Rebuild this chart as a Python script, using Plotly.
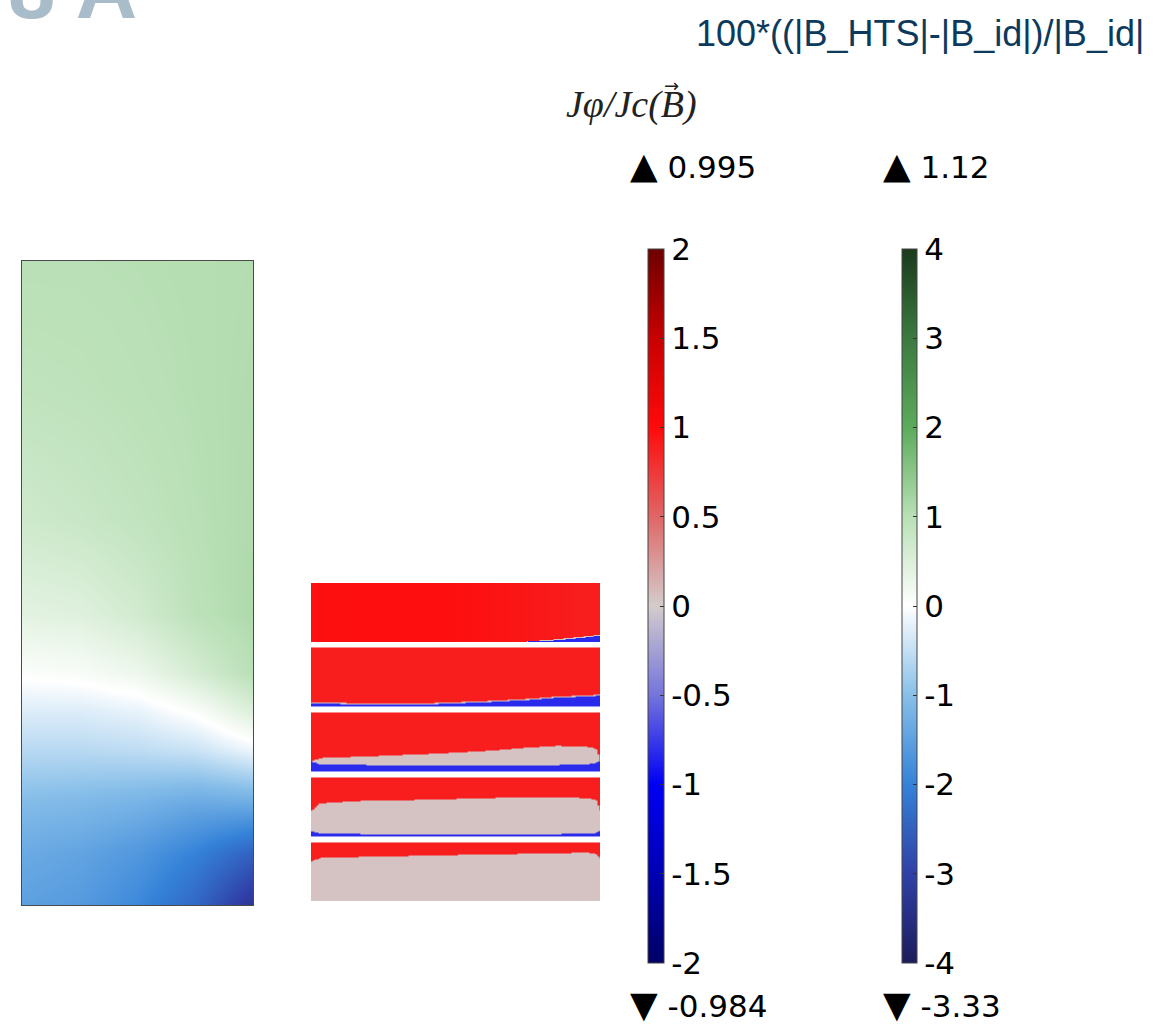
import numpy as np
import plotly.graph_objects as go

W, H = 1158, 1025

# ---------------- Left panel: 100*((|B_HTS|-|B_id|)/|B_id|) ----------------
lp_r = [0.0, 0.25, 0.5, 0.75, 1.0]                                   # radial position (normalised)
lp_z = [0.0, 0.08, 0.16, 0.24, 0.30, 0.36, 0.45, 0.60, 0.80, 1.0]   # axial position (normalised)
lp_vals = [
    [-1.50, -1.60, -1.90, -2.40, -3.30],
    [-1.35, -1.45, -1.65, -2.00, -2.50],
    [-1.05, -1.10, -1.20, -1.35, -1.30],
    [-0.60, -0.60, -0.55, -0.45, -0.15],
    [-0.30, -0.30, -0.20, 0.05, 0.50],
    [0.05, 0.10, 0.25, 0.60, 1.00],
    [0.40, 0.45, 0.65, 0.95, 1.12],
    [0.70, 0.78, 0.88, 1.00, 1.10],
    [0.90, 0.93, 0.98, 1.03, 1.08],
    [1.00, 1.00, 1.02, 1.04, 1.06],
]

# ---------------- Middle panel: J_phi / Jc(B) in 5 tapes ----------------
strip_x = [0.0, 0.03, 0.2, 0.4, 0.6, 0.75, 0.85, 0.95, 0.985, 1.0]
# top of the negative (blue) zone, fraction of tape height, per tape (top -> bottom)
blue_tops = [
    [0.00, 0.00, 0.00, 0.00, 0.00, 0.00, 0.02, 0.07, 0.09, 0.10],
    [0.06, 0.06, 0.04, 0.045, 0.08, 0.12, 0.16, 0.18, 0.19, 0.19],
    [0.18, 0.13, 0.12, 0.12, 0.12, 0.12, 0.12, 0.13, 0.15, 0.22],
    [0.10, 0.06, 0.05, 0.05, 0.05, 0.05, 0.05, 0.06, 0.07, 0.12],
    [0.00, 0.00, 0.00, 0.00, 0.00, 0.00, 0.00, 0.00, 0.00, 0.00],
]
# top of the sub-critical (grey) zone
gray_tops = [
    [0.00, 0.00, 0.00, 0.00, 0.00, 0.00, 0.04, 0.09, 0.11, 0.12],
    [0.08, 0.08, 0.06, 0.065, 0.10, 0.14, 0.18, 0.20, 0.21, 0.21],
    [0.18, 0.24, 0.27, 0.31, 0.36, 0.42, 0.45, 0.44, 0.40, 0.22],
    [0.45, 0.58, 0.63, 0.64, 0.67, 0.68, 0.68, 0.67, 0.64, 0.45],
    [0.70, 0.76, 0.78, 0.80, 0.82, 0.83, 0.84, 0.85, 0.83, 0.75],
]
# level of the saturated (red) zone
red_levels = [
    [0.96, 0.97, 0.98, 0.98, 0.96, 0.93, 0.91, 0.89, 0.89, 0.89],
    [0.89, 0.89, 0.89, 0.89, 0.89, 0.89, 0.89, 0.89, 0.89, 0.89],
    [0.89, 0.89, 0.89, 0.89, 0.89, 0.89, 0.89, 0.89, 0.89, 0.89],
    [0.89, 0.89, 0.89, 0.89, 0.89, 0.89, 0.89, 0.89, 0.89, 0.89],
    [0.89, 0.89, 0.89, 0.89, 0.89, 0.89, 0.89, 0.89, 0.89, 0.89],
]
gray_level = 0.05
blue_level = -0.82

# ---------------- Colour legends ----------------
j_ticks = [2, 1.5, 1, 0.5, 0, -0.5, -1, -1.5, -2]
j_ticktext = ["2", "1.5", "1", "0.5", "0", "-0.5", "-1", "-1.5", "-2"]
j_max, j_min = "0.995", "-0.984"
b_ticks = [4, 3, 2, 1, 0, -1, -2, -3, -4]
b_ticktext = ["4", "3", "2", "1", "0", "-1", "-2", "-3", "-4"]
b_max, b_min = "1.12", "-3.33"

j_scale = [
    [0.0, "#000066"], [0.125, "#0000b4"], [0.25, "#0000f5"], [0.375, "#7474dc"],
    [0.5, "#d4cccc"], [0.625, "#e06666"], [0.75, "#ff0a0a"], [0.875, "#c80000"],
    [1.0, "#6e0000"],
]
b_scale = [
    [0.0, "#1c1c5c"], [0.125, "#3040a8"], [0.25, "#3482d8"], [0.375, "#88bfe9"],
    [0.5, "#ffffff"], [0.625, "#b9e0b6"], [0.75, "#5cab5c"], [0.875, "#3c7a40"],
    [1.0, "#1a3a1c"],
]

TICKFONT = dict(family="DejaVu Sans", size=31, color="black")

fig = go.Figure()

# left panel heatmap
fig.add_trace(go.Heatmap(
    x=lp_r, y=lp_z, z=lp_vals, zmin=-4, zmax=4, colorscale=b_scale,
    zsmooth="best", xaxis="x", yaxis="y", hoverinfo="skip",
    colorbar=dict(
        x=902 / W, xanchor="left", y=(H - 963) / H, yanchor="bottom",
        len=714, lenmode="pixels", thickness=15, thicknessmode="pixels",
        xpad=0, ypad=0, outlinewidth=1, outlinecolor="#444444",
        tickvals=b_ticks, ticktext=b_ticktext, tickfont=TICKFONT,
        ticks="inside", ticklen=4, tickcolor="#333333",
    ),
))

# middle panel tapes
xf = np.linspace(0, 1, 146)
yf = np.linspace(0, 1, 59)
pitch = 1.12
for k in range(5):
    bt = np.interp(xf, strip_x, blue_tops[k])
    gt = np.interp(xf, strip_x, gray_tops[k])
    rl = np.interp(xf, strip_x, red_levels[k])
    Y = yf[:, None]
    zz = np.where(Y < bt[None, :], blue_level,
                  np.where(Y < gt[None, :], gray_level, rl[None, :]))
    base = (4 - k) * pitch
    fig.add_trace(go.Heatmap(
        x=xf, y=base + yf, z=zz, zmin=-2, zmax=2, colorscale=j_scale,
        zsmooth="best", xaxis="x2", yaxis="y2", hoverinfo="skip",
        showscale=(k == 0),
        colorbar=dict(
            x=648 / W, xanchor="left", y=(H - 963) / H, yanchor="bottom",
            len=714, lenmode="pixels", thickness=16, thicknessmode="pixels",
            xpad=0, ypad=0, outlinewidth=1, outlinecolor="#444444",
            tickvals=j_ticks, ticktext=j_ticktext, tickfont=TICKFONT,
            ticks="inside", ticklen=4, tickcolor="#333333",
        ),
    ))

ax_common = dict(showgrid=False, zeroline=False, showticklabels=False, ticks="")
fig.update_layout(
    width=W, height=H,
    margin=dict(l=0, r=0, t=0, b=0),
    paper_bgcolor="white", plot_bgcolor="white",
    showlegend=False,
    xaxis=dict(domain=[22 / W, 253 / W], range=[0, 1], showline=True, mirror=True,
               linecolor="#4a4a4a", linewidth=1, **ax_common),
    yaxis=dict(domain=[(H - 905) / H, (H - 261) / H], range=[0, 1], showline=True,
               mirror=True, linecolor="#4a4a4a", linewidth=1, **ax_common),
    xaxis2=dict(domain=[311 / W, 600 / W], range=[0, 1], anchor="y2", **ax_common),
    yaxis2=dict(domain=[(H - 901) / H, (H - 583) / H], range=[0, 4 * pitch + 1],
                anchor="x2", **ax_common),
)

ann = []
ann.append(dict(text="<b>8 A</b>", x=6 / W, y=1 + 11 / H, xanchor="left", yanchor="middle",
                font=dict(family="Liberation Sans", size=85, color="#a9bcc9")))
ann.append(dict(text="100*((|B_HTS|-|B_id|)/|B_id|", x=1146 / W, y=(H - 33) / H,
                xanchor="right", yanchor="middle",
                font=dict(family="Liberation Sans", size=36, color="#0c3a5c")))
ann.append(dict(text="<i>Jφ/Jc(B)</i>", x=564 / W, y=(H - 105) / H,
                xanchor="left", yanchor="middle",
                font=dict(family="Liberation Serif", size=38, color="#222222")))
ann.append(dict(text="\u2192", x=671 / W, y=(H - 86) / H,
                xanchor="center", yanchor="middle",
                font=dict(family="DejaVu Sans", size=18, color="#222222")))
tri_up = '<span style="font-size:36px">\u25b2</span> '
tri_dn = '<span style="font-size:36px">\u25bc</span> '
for xp, txt, yp in [(628, tri_up + j_max, 165), (881, tri_up + b_max, 165),
                    (628, tri_dn + j_min, 1004), (881, tri_dn + b_min, 1004)]:
    ann.append(dict(text=txt, x=xp / W, y=(H - yp) / H, xanchor="left", yanchor="middle",
                    font=TICKFONT))
for a in ann:
    a.update(xref="paper", yref="paper", showarrow=False)
fig.update_layout(annotations=ann)

fig.write_html("out.html")
